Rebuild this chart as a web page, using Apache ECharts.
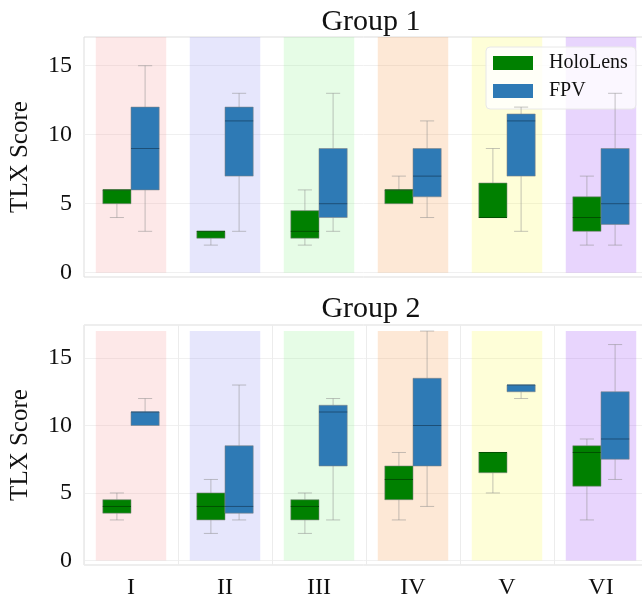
<!DOCTYPE html>
<html>
<head>
<meta charset="utf-8">
<script src="https://cdn.jsdelivr.net/npm/echarts@6/dist/echarts.min.js"></script>
<style>
  html, body { margin: 0; padding: 0; background: #fff; }
  #chart { width: 642px; height: 599px; }
</style>
</head>
<body>
<div id="chart"></div>
<script>
var conditions = ['I', 'II', 'III', 'IV', 'V', 'VI'];
var yTicks = [0, 5, 10, 15];
// [min, q1, median, q3, max]
var group1HoloLens = [[4, 5, 6, 6, 6], [2, 2.5, 3, 3, 3], [2, 2.5, 3, 4.5, 6], [5, 5, 6, 6, 7], [4, 4, 4, 6.5, 9], [2, 3, 4, 5.5, 7]];
var group1FPV = [[3, 6, 9, 12, 15], [3, 7, 11, 12, 13], [3, 4, 5, 9, 13], [4, 5.5, 7, 9, 11], [3, 7, 11, 11.5, 12], [2, 3.5, 5, 9, 13]];
var group2HoloLens = [[3, 3.5, 4, 4.5, 5], [2, 3, 4, 5, 6], [2, 3, 4, 4.5, 5], [3, 4.5, 6, 7, 8], [5, 6.5, 8, 8, 8], [3, 5.5, 8, 8.5, 9]];
var group2FPV = [[10, 10, 11, 11, 12], [3, 3.5, 4, 8.5, 13], [3, 7, 11, 11.5, 12], [4, 7, 10, 13.5, 17], [12, 12.5, 13, 13, 13], [6, 7.5, 9, 12.5, 16]];
var bandTop = [17.08, 17];
var bandColors = ['rgba(245,140,140,0.2)', 'rgba(130,130,240,0.2)', 'rgba(130,240,130,0.2)',
                  'rgba(245,140,50,0.2)', 'rgba(250,250,60,0.2)', 'rgba(140,45,245,0.2)'];

var FONT = 'Liberation Serif';
var chartDom = document.getElementById('chart');
var myChart = echarts.init(chartDom);

var boxRenderer = function (side, medianColor) {
    return function (params, api) {
        var cat = api.value(0);
        var band = api.size([1, 0])[0];
        var cx = api.coord([cat, 0])[0] + side * band * 0.15;
        var w = band * 0.3;
        var cap = w / 2;
        var pMin = api.coord([cat, api.value(1)])[1];
        var pQ1 = api.coord([cat, api.value(2)])[1];
        var pMed = api.coord([cat, api.value(3)])[1];
        var pQ3 = api.coord([cat, api.value(4)])[1];
        var pMax = api.coord([cat, api.value(5)])[1];
        var whisker = { stroke: 'rgba(140,140,140,0.5)', lineWidth: 1 };
        var children = [];
        if (pMin - pQ1 > 0.5) {
            children.push({ type: 'line', shape: { x1: cx, y1: pQ1, x2: cx, y2: pMin }, style: whisker });
            children.push({ type: 'line', shape: { x1: cx - cap / 2, y1: pMin, x2: cx + cap / 2, y2: pMin }, style: whisker });
        }
        if (pQ3 - pMax > 0.5) {
            children.push({ type: 'line', shape: { x1: cx, y1: pQ3, x2: cx, y2: pMax }, style: whisker });
            children.push({ type: 'line', shape: { x1: cx - cap / 2, y1: pMax, x2: cx + cap / 2, y2: pMax }, style: whisker });
        }
        children.push({
            type: 'rect',
            shape: { x: cx - w / 2, y: pQ3, width: w, height: pQ1 - pQ3 },
            style: { fill: api.visual('color'), stroke: 'rgba(130,130,130,0.55)', lineWidth: 1 }
        });
        children.push({ type: 'line', shape: { x1: cx - w / 2, y1: pMed, x2: cx + w / 2, y2: pMed }, style: { stroke: medianColor, lineWidth: 1 } });
        return { type: 'group', children: children };
    };
};

var bandRenderer = function (params, api) {
    var cat = api.value(0);
    var band = api.size([1, 0])[0];
    var cx = api.coord([cat, 0])[0];
    var top = api.coord([cat, api.value(1)])[1];
    var bottom = api.coord([cat, 0])[1];
    return {
        type: 'rect',
        shape: { x: cx - band * 0.375, y: top, width: band * 0.75, height: bottom - top },
        style: { fill: bandColors[cat] }
    };
};

var toBoxData = function (rows) {
    return rows.map(function (r, i) { return [i].concat(r); });
};

var makeBoxSeries = function (name, rows, idx, side, color, medianColor) {
    return {
        name: name,
        type: 'custom',
        xAxisIndex: idx,
        yAxisIndex: idx,
        itemStyle: { color: color },
        renderItem: boxRenderer(side, medianColor),
        encode: { x: 0, y: [1, 2, 3, 4, 5] },
        data: toBoxData(rows),
        z: 5
    };
};

var makeBandSeries = function (idx) {
    return {
        type: 'custom',
        xAxisIndex: idx,
        yAxisIndex: idx,
        silent: true,
        renderItem: bandRenderer,
        encode: { x: 0, y: 1 },
        data: conditions.map(function (c, i) { return [i, bandTop[idx]]; }),
        z: 1
    };
};

var makeYAxis = function (idx, min, max) {
    return {
        type: 'value',
        gridIndex: idx,
        min: min,
        max: max,
        name: 'TLX Score',
        nameLocation: 'middle',
        nameGap: 51,
        nameTextStyle: { fontFamily: FONT, fontSize: 25, color: '#111' },
        axisLine: { show: false },
        axisTick: { show: false, customValues: yTicks },
        axisLabel: { customValues: yTicks, fontFamily: FONT, fontSize: 24, color: '#111', margin: 12 },
        splitLine: { show: true, lineStyle: { color: '#f0f0f0', width: 1 } }
    };
};

var makeXAxis = function (idx, showLabels) {
    return {
        type: 'category',
        gridIndex: idx,
        data: conditions,
        axisLine: { show: false },
        axisTick: { show: false },
        axisLabel: { show: showLabels, fontFamily: FONT, fontSize: 24, color: '#111', margin: 11 },
        splitLine: { show: showLabels, lineStyle: { color: '#ececec', width: 1 } }
    };
};

var option = {
    animation: false,
    backgroundColor: '#fff',
    title: [
        { text: 'Group 1', left: 366, top: 2, textAlign: 'center',
          textStyle: { fontFamily: FONT, fontSize: 30, fontWeight: 'normal', color: '#111' } },
        { text: 'Group 2', left: 366, top: 289, textAlign: 'center',
          textStyle: { fontFamily: FONT, fontSize: 30, fontWeight: 'normal', color: '#111' } }
    ],
    legend: {
        data: ['HoloLens', 'FPV'],
        orient: 'vertical',
        left: 486,
        top: 47,
        padding: [6, 8, 8, 7],
        itemGap: 8,
        itemWidth: 40,
        itemHeight: 14,
        icon: 'rect',
        backgroundColor: 'rgba(255,255,255,0.8)',
        borderColor: '#e8e8e8',
        borderWidth: 1,
        borderRadius: 4,
        textStyle: { fontFamily: FONT, fontSize: 20, color: '#111', lineHeight: 20, padding: [0, 0, 0, 11] }
    },
    grid: [
        { left: 84, top: 37, width: 564, height: 240, show: true, borderColor: '#dddddd', borderWidth: 1,
          backgroundColor: 'transparent', outerBoundsMode: 'none', containLabel: false },
        { left: 84, top: 325, width: 564, height: 240, show: true, borderColor: '#dddddd', borderWidth: 1,
          backgroundColor: 'transparent', outerBoundsMode: 'none', containLabel: false }
    ],
    xAxis: [makeXAxis(0, false), makeXAxis(1, true)],
    yAxis: [makeYAxis(0, -0.31, 17.08), makeYAxis(1, -0.34, 17.45)],
    series: [
        makeBandSeries(0),
        makeBandSeries(1),
        makeBoxSeries('HoloLens', group1HoloLens, 0, -1, '#008000', '#005000'),
        makeBoxSeries('FPV', group1FPV, 0, 1, '#2e7ab5', '#1d4f77'),
        makeBoxSeries('HoloLens', group2HoloLens, 1, -1, '#008000', '#005000'),
        makeBoxSeries('FPV', group2FPV, 1, 1, '#2e7ab5', '#1d4f77')
    ]
};
myChart.setOption(option);
</script>
</body>
</html>
